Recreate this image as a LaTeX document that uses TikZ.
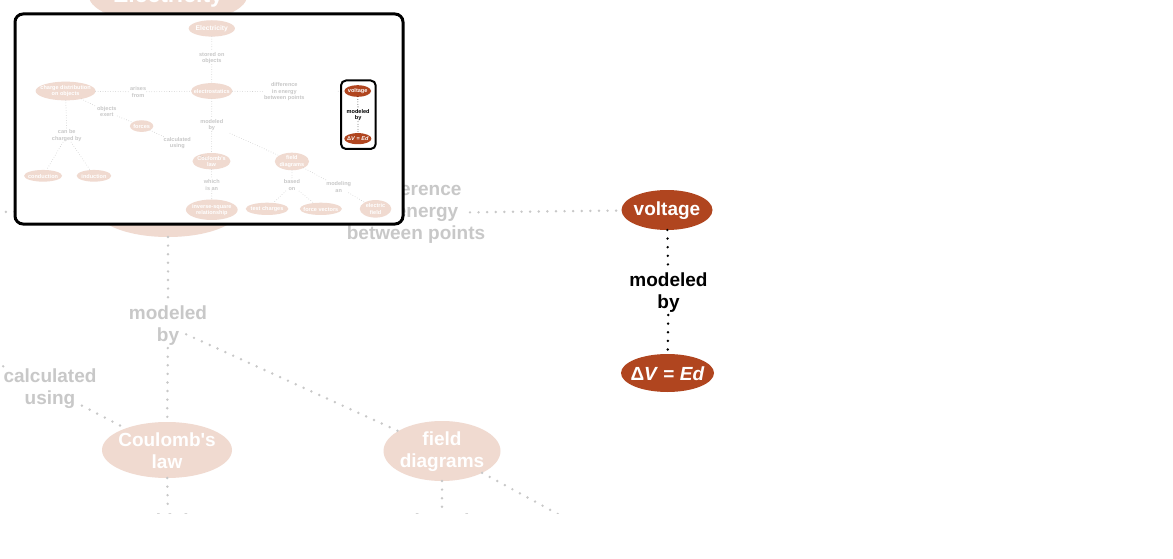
\documentclass[tikz,border=0pt]{standalone}
\usepackage{fontspec}
\setmainfont{Liberation Sans}
\usetikzlibrary{shapes.geometric}
\definecolor{fadefill}{RGB}{240,218,208}
\definecolor{hifill}{RGB}{176,69,31}
\definecolor{fadegray}{RGB}{200,200,200}
\newcommand\mylw{2.7}
\newcommand\mygap{8.6}
\newcommand\apos{{\XeTeXglyph\XeTeXcharglyph"27\relax}}
\tikzset{
  ellbase/.style={ellipse, inner sep=0pt, outer sep=0pt},
  fadeell/.style={ellbase, fill=fadefill},
  hiell/.style={ellbase, fill=hifill},
  ctext/.style={text=white, font=\bfseries\fontsize{19}{22}\selectfont, align=center, inner sep=0pt, yshift=-1pt},
  phrasebase/.style={font=\bfseries\fontsize{19}{22}\selectfont, align=center, inner sep=2pt, yshift=-3pt},
  fadephrase/.style={phrasebase, text=fadegray},
  hiphrase/.style={phrasebase, text=black},
  linkbase/.style={line width=\mylw pt, line cap=round, dash pattern=on 0pt off \mygap pt},
  fadelink/.style={linkbase, draw=fadegray},
  hilink/.style={linkbase, draw=black},
}
\newcommand\cnode[6]{%
  \node[#1ell, minimum width=#4pt, minimum height=#5pt] (#2) at (#3) {};
  \node[ctext] (#2-t) at (#2.center) {#6};
}
\newcommand\pnode[4]{%
  \node[#1phrase] (#2) at (#3) {#4};
}
\newcommand\drawmap{%
  \node[fadeell, minimum width=158pt, minimum height=56pt] (elec) at (168,-4) {};
  \node[ctext, font=\bfseries\fontsize{23}{26}\selectfont] (elec-t) at (elec.center) {Electricity};
  \pnode{fade}{stored}{168,94}{stored on\\objects}
  \cnode{fade}{estat}{168,210}{142}{54}{electrostatics}
  \cnode{fade}{charge}{-332,210}{205}{64}{charge distribution\\on objects}
  \pnode{fade}{arises}{-84,210}{arises\\from}
  \pnode{fade}{diff}{416,210}{difference\\in energy\\between points}
  \cnode{hi}{volt}{667,210}{91}{40}{voltage}
  \pnode{hi}{modv}{668.5,290}{modeled\\by}
  \cnode{hi}{dv}{667.5,373}{93}{38}{Δ\textit{V} = \textit{Ed}}
  \pnode{fade}{exert}{-191,278}{objects\\exert}
  \cnode{fade}{forces}{-72,330}{80}{40}{forces}
  \pnode{fade}{calc}{50,386}{calculated\\using}
  \pnode{fade}{mods}{168,323}{modeled\\by}
  \pnode{fade}{charged}{-328,360}{can be\\charged by}
  \cnode{fade}{coul}{167,450}{130}{56}{Coulomb\apos s\\law}
  \cnode{fade}{field}{442,451}{117}{60}{field\\diagrams}
  \cnode{fade}{cond}{-409,500}{130}{40}{conduction}
  \cnode{fade}{induc}{-235,500}{118}{40}{induction}
  \pnode{fade}{which}{168,529}{which\\is an}
  \pnode{fade}{based}{442,529}{based\\on}
  \pnode{fade}{modeling}{602,535}{modeling\\an}
  \cnode{fade}{inv}{168,616}{177}{70}{inverse-square\\relationship}
  \cnode{fade}{test}{357,613}{146}{42}{test charges}
  \cnode{fade}{fvec}{541,613}{144}{42}{force vectors}
  \cnode{fade}{efield}{728,613}{108}{60}{electric\\field}
  \draw[fadelink] (elec) -- (stored);
  \draw[fadelink] (stored) -- (estat);
  \draw[fadelink] (charge) -- (arises);
  \draw[fadelink] (arises) -- (estat);
  \draw[fadelink] (estat) -- (diff);
  \draw[fadelink, shorten <=54pt] (diff.center) -- (volt);
  \draw[hilink] (volt) -- (modv);
  \draw[hilink] (modv) -- (dv);
  \draw[fadelink] (estat) -- (mods);
  \draw[fadelink] (mods) -- (coul);
  \draw[fadelink, shorten <=20pt] (mods.center) -- (field);
  \draw[fadelink] (charge) -- (exert);
  \draw[fadelink] (exert) -- (forces);
  \draw[fadelink] (forces) -- (calc);
  \draw[fadelink, shorten <=36pt] (calc.center) -- (coul);
  \draw[fadelink] (charge) -- (charged);
  \draw[fadelink] (charged) -- (cond);
  \draw[fadelink] (charged) -- (induc);
  \draw[fadelink] (coul) -- (which);
  \draw[fadelink] (which) -- (inv);
  \draw[fadelink] (field) -- (based);
  \draw[fadelink] (based) -- (test);
  \draw[fadelink] (based) -- (fvec);
  \draw[fadelink] (field) -- (modeling);
  \draw[fadelink] (modeling) -- (efield);
}
\begin{document}
\begin{tikzpicture}[x=1pt, y=-1pt]
  \useasboundingbox (0,0) rectangle (1173,559);
  \fill[white] (0,0) rectangle (1173,559);
  % main zoomed view
  \begin{scope}
    \clip (0,0) rectangle (1173,513);
    \drawmap
  \end{scope}
  % overview inset
  \fill[white, rounded corners=8pt] (15,14) rectangle (403,224);
  \begin{scope}
    \clip[rounded corners=8pt] (15,14) rectangle (403,224);
    \begin{scope}[name prefix=m-, shift={(162.67,29.6)}, scale=0.2924, transform shape]
      \renewcommand\mylw{0.79}
      \renewcommand\mygap{2.51}
      \drawmap
    \end{scope}
  \end{scope}
  \draw[black, line width=3pt, rounded corners=8pt] (15,14) rectangle (403,224);
  \draw[black, line width=2pt, rounded corners=5pt] (341,80.5) rectangle (375.7,149);
\end{tikzpicture}
\end{document}
